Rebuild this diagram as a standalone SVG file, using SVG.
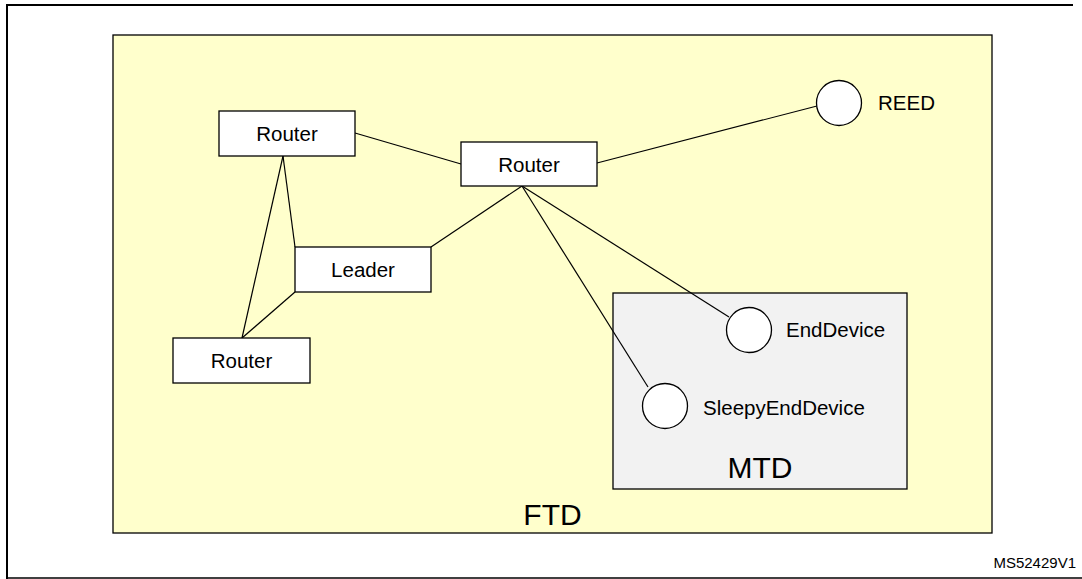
<svg xmlns="http://www.w3.org/2000/svg" width="1082" height="579" viewBox="0 0 1082 579">
<style>
.box{fill:#fff;stroke:#000;stroke-width:1.3}
.dev{fill:#fff;stroke:#000;stroke-width:1.3}
.lbl{font-family:"Liberation Sans",Arial,sans-serif;font-size:20.5px;fill:#000}
.mid{text-anchor:middle}
.big{font-family:"Liberation Sans",Arial,sans-serif;font-size:30px;fill:#000;text-anchor:middle}
.conn line{stroke:#000;stroke-width:1.2}
</style>
<rect width="1082" height="579" fill="#fff"/>
<path d="M7,579 V5 H1073" fill="none" stroke="#000" stroke-width="2"/>
<line x1="7" y1="578" x2="1082" y2="578" stroke="#000" stroke-width="1.5"/>
<g id="FTD">
<rect x="113" y="35" width="879" height="498" fill="#ffffcc" stroke="#000" stroke-width="1.3"/>
<text class="big" x="552.5" y="525">FTD</text>
</g>
<g id="MTD">
<rect x="613" y="293" width="294" height="196" fill="#f2f2f2" stroke="#000" stroke-width="1.3"/>
<text class="big" x="760" y="478">MTD</text>
</g>
<g class="conn" id="connectors">
<line x1="355" y1="133" x2="461" y2="164"/>
<line x1="597" y1="163" x2="817" y2="106"/>
<line x1="283" y1="156" x2="295" y2="247"/>
<line x1="283" y1="156" x2="242" y2="338"/>
<line x1="295" y1="292" x2="242" y2="338"/>
<line x1="522" y1="186" x2="431" y2="247"/>
<line x1="522" y1="186" x2="729" y2="317"/>
<line x1="522" y1="186" x2="648" y2="387"/>
</g>
<g id="router1">
<rect class="box" x="219" y="111" width="136" height="45"/>
<text class="lbl mid" x="287" y="141">Router</text>
</g>
<g id="router2">
<rect class="box" x="461" y="142" width="136" height="44"/>
<text class="lbl mid" x="529" y="171.5">Router</text>
</g>
<g id="leader">
<rect class="box" x="295" y="247" width="136" height="45"/>
<text class="lbl mid" x="363" y="277">Leader</text>
</g>
<g id="router3">
<rect class="box" x="173" y="338" width="137" height="45"/>
<text class="lbl mid" x="241.5" y="368">Router</text>
</g>
<g id="reed">
<circle class="dev" cx="839" cy="103" r="22.5"/>
<text class="lbl" x="878" y="110">REED</text>
</g>
<g id="enddevice">
<circle class="dev" cx="749" cy="330" r="22.5"/>
<text class="lbl" x="786" y="337">EndDevice</text>
</g>
<g id="sleepyenddevice">
<circle class="dev" cx="665" cy="406" r="22.5"/>
<text class="lbl" x="703" y="415">SleepyEndDevice</text>
</g>
<text x="1076" y="568" font-family="Liberation Sans,Arial,sans-serif" font-size="15" text-anchor="end" fill="#000">MS52429V1</text>
</svg>
